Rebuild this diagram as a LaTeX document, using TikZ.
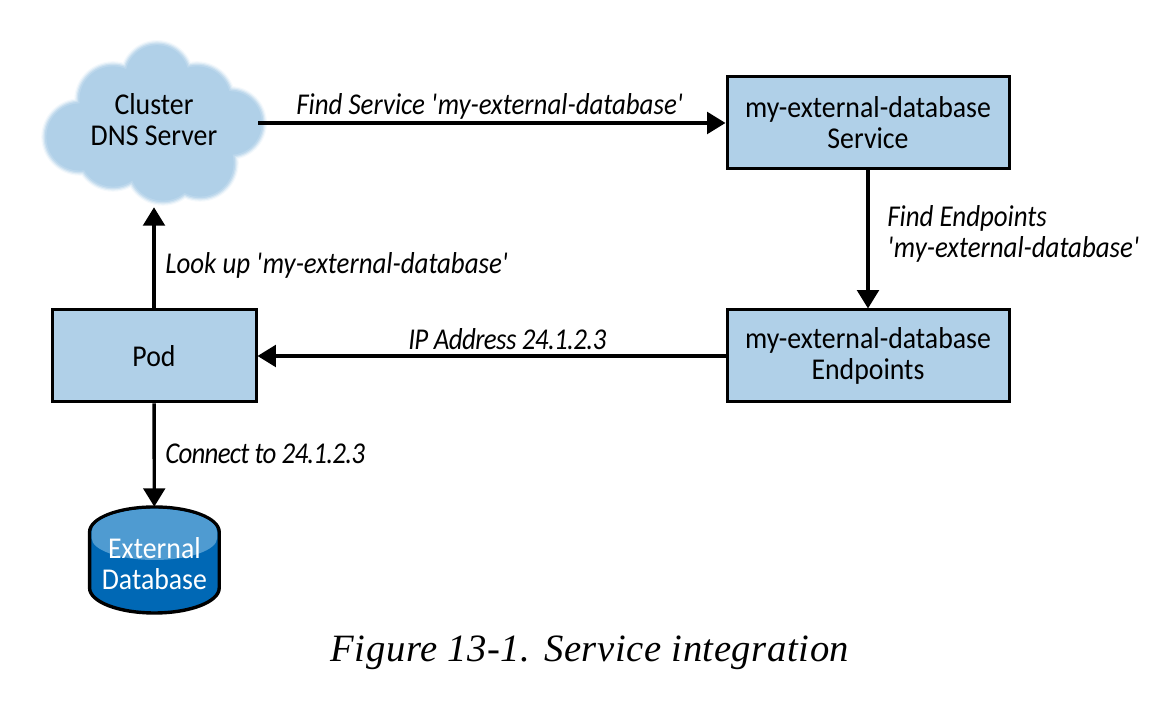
\documentclass[tikz,border=0pt]{standalone}
\usepackage{fontspec}
\setmainfont[FakeStretch=0.92,ItalicFeatures={FakeStretch=0.89}]{Carlito}
\newfontfamily\captionfont[LetterSpace=1.5]{Liberation Serif}
\usetikzlibrary{arrows.meta}
\definecolor{boxblue}{HTML}{B0D0E8}
\definecolor{dbdark}{HTML}{0068B5}
\definecolor{dblight}{HTML}{4F9BD1}
\newcommand{\sq}{\textquotesingle}
\tikzset{
  txt/.style={font=\fontsize{21.5}{22}\selectfont,align=center},
  lbl/.style={font=\fontsize{21.5}{22}\selectfont\itshape,anchor=west,inner sep=0pt},
  box/.style={txt,draw,line width=0.75mm,fill=boxblue,minimum height=23mm},
  link/.style={line width=0.85mm,-{Triangle[length=4.6mm,width=5.4mm]}},
}
\newcommand{\cloudlayer}[2]{%
\fill[boxblue,opacity=#2] \foreach \cx/\cy/\cr in {39.25/157.25/8.75,28.25/151.5/9.2,49.25/151.5/9.2,57.5/145.75/8.75,20/142.25/9.2,50/135.75/9.2,40.75/134.75/9.2,28.25/138.25/9.2,38.75/145.25/15} {(\cx mm,\cy mm) circle ({\cr mm+#1})};
}
\begin{document}
\begin{tikzpicture}
\useasboundingbox (0mm,0mm) rectangle (293.5mm,176.5mm);
\cloudlayer{0.5mm}{0.12}
\cloudlayer{0.2mm}{0.25}
\cloudlayer{-0.1mm}{0.4}
\cloudlayer{-0.4mm}{0.6}
\cloudlayer{-0.8mm}{1}
\node[txt,minimum width=52mm,minimum height=43.5mm,inner sep=0pt] (dns) at (38.5mm,146.5mm) {Cluster\\DNS Server};
\node[box,minimum width=70.5mm] (svc) at (217mm,145.75mm) {my-external-database\\Service};
\node[box,minimum width=70.5mm] (ep) at (217mm,87.5mm) {my-external-database\\Endpoints};
\node[box,minimum width=51mm] (pod) at (38.5mm,87.5mm) {Pod};
% database drum
\draw[fill=dbdark,line width=0.85mm] (22.4mm,43.5mm) arc[start angle=180,end angle=0,x radius=16.2mm,y radius=6.25mm] -- (54.8mm,29.5mm) arc[start angle=0,end angle=-180,x radius=16.2mm,y radius=6.25mm] -- cycle;
\fill[dblight] (22.9mm,42mm) -- (22.9mm,43.5mm) arc[start angle=180,end angle=0,x radius=15.7mm,y radius=5.8mm] -- (54.3mm,42mm) arc[start angle=0,end angle=-180,x radius=15.7mm,y radius=5.5mm] -- cycle;
\node[txt,text=white,minimum width=32.5mm,minimum height=28.3mm,inner sep=0pt] (db) at (38.6mm,35.6mm) {External\\Database};
\draw[link] (dns.east |- svc.west) -- (svc);
\draw[link] (svc) -- (ep);
\draw[link] (ep) -- (pod);
\draw[link] (pod) -- (dns);
\draw[link] (pod) -- (db);
\node[lbl] (l_find) at (74mm,150mm) {Find Service \sq my-external-database\sq};
\node[lbl,align=left] (l_ep) at (221.75mm,118mm) {Find Endpoints\\\sq my-external-database\sq};
\node[lbl] (l_look) at (41.25mm,110.25mm) {Look up \sq my-external-database\sq};
\node[lbl] (l_ip) at (102mm,91.75mm) {\addfontfeature{LetterSpace=-2}IP Address 24.1.2.3};
\node[lbl] (l_conn) at (41.25mm,63mm) {\addfontfeature{LetterSpace=-2.5}Connect to 24.1.2.3};
\node[font=\captionfont\fontsize{27.5}{30}\selectfont\itshape,inner sep=0pt] (cap) at (147.5mm,13.25mm) {Figure 13-1. Service integration};
\end{tikzpicture}
\end{document}
